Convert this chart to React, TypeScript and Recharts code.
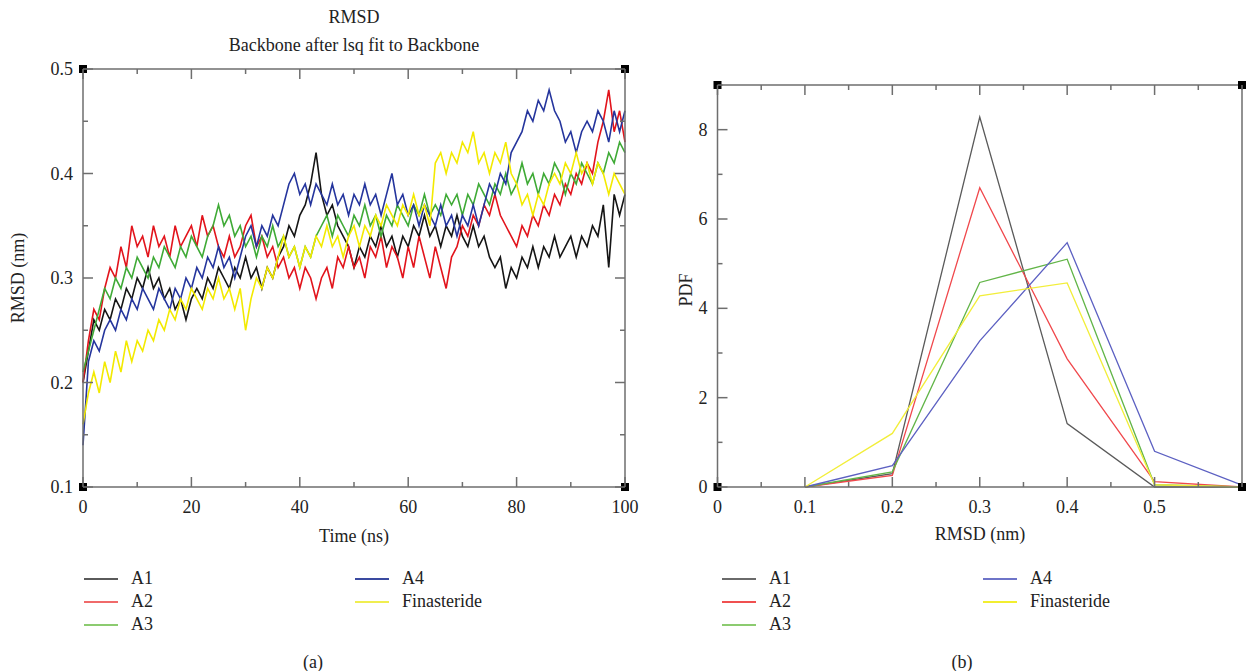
import React from "react"
import { LineChart, Line, XAxis, YAxis, ReferenceDot } from "recharts"

// ── RMSD time series (nm), one sample per ns ──
const timeNs = Array.from({ length: 101 }, (_, i) => i)

const rmsdA1 = [
  0.2, 0.23, 0.26, 0.25, 0.27, 0.26, 0.28, 0.27, 0.29, 0.28, 0.3, 0.29, 0.31, 0.29, 0.3, 0.28, 0.29, 0.27, 0.28, 0.26, 0.28,
  0.29, 0.28, 0.3, 0.29, 0.31, 0.3, 0.29, 0.31, 0.3, 0.32, 0.3, 0.31, 0.29, 0.31, 0.3, 0.32, 0.33, 0.35, 0.34, 0.36,
  0.37, 0.39, 0.42, 0.38, 0.36, 0.37, 0.35, 0.34, 0.33, 0.31, 0.33, 0.32, 0.34, 0.33, 0.35, 0.33, 0.34, 0.32, 0.34, 0.33,
  0.35, 0.34, 0.36, 0.34, 0.35, 0.33, 0.35, 0.34, 0.36, 0.34, 0.33, 0.35, 0.33, 0.34, 0.32, 0.31, 0.32, 0.29, 0.31, 0.3,
  0.32, 0.31, 0.33, 0.31, 0.33, 0.32, 0.34, 0.32, 0.33, 0.34, 0.32, 0.34, 0.33, 0.35, 0.34, 0.37, 0.31, 0.38, 0.36, 0.38,
]
const rmsdA2 = [
  0.2, 0.24, 0.27, 0.26, 0.29, 0.31, 0.3, 0.33, 0.31, 0.35, 0.33, 0.34, 0.32, 0.35, 0.33, 0.34, 0.32, 0.35, 0.33, 0.34, 0.35,
  0.33, 0.36, 0.34, 0.35, 0.33, 0.32, 0.34, 0.32, 0.33, 0.35, 0.36, 0.33, 0.34, 0.32, 0.33, 0.31, 0.32, 0.3, 0.31, 0.29,
  0.31, 0.3, 0.28, 0.3, 0.31, 0.29, 0.32, 0.31, 0.33, 0.31, 0.32, 0.3, 0.33, 0.32, 0.34, 0.31, 0.33, 0.32, 0.3, 0.33,
  0.31, 0.34, 0.32, 0.3, 0.33, 0.31, 0.29, 0.32, 0.33, 0.35, 0.34, 0.36, 0.35, 0.37, 0.36, 0.38, 0.36, 0.35, 0.34, 0.33,
  0.35, 0.34, 0.36, 0.35, 0.37, 0.36, 0.38, 0.37, 0.39, 0.38, 0.4, 0.39, 0.41, 0.4, 0.43, 0.45, 0.48, 0.44, 0.46, 0.43,
]
const rmsdA3 = [
  0.21, 0.23, 0.25, 0.27, 0.29, 0.28, 0.3, 0.29, 0.31, 0.3, 0.32, 0.31, 0.3, 0.32, 0.31, 0.33, 0.32, 0.31, 0.33, 0.32, 0.34,
  0.33, 0.32, 0.34, 0.35, 0.37, 0.35, 0.36, 0.34, 0.35, 0.33, 0.34, 0.32, 0.34, 0.33, 0.35, 0.33, 0.34, 0.32, 0.33, 0.31,
  0.33, 0.32, 0.34, 0.35, 0.36, 0.34, 0.36, 0.35, 0.34, 0.36, 0.35, 0.37, 0.35, 0.36, 0.34, 0.36, 0.35, 0.37, 0.36, 0.35,
  0.37, 0.36, 0.38, 0.36, 0.37, 0.36, 0.38, 0.37, 0.38, 0.36, 0.38, 0.37, 0.39, 0.38, 0.37, 0.39, 0.38, 0.4, 0.38, 0.39,
  0.41, 0.39, 0.4, 0.38, 0.4, 0.39, 0.41, 0.4, 0.38, 0.4, 0.39, 0.41, 0.4, 0.39, 0.41, 0.4, 0.42, 0.41, 0.43, 0.42,
]
const rmsdA4 = [
  0.14, 0.22, 0.24, 0.23, 0.25, 0.26, 0.25, 0.27, 0.26, 0.28, 0.27, 0.29, 0.28, 0.27, 0.29, 0.28, 0.27, 0.29, 0.28, 0.3, 0.29,
  0.31, 0.3, 0.32, 0.31, 0.33, 0.31, 0.32, 0.3, 0.32, 0.34, 0.35, 0.33, 0.35, 0.34, 0.36, 0.35, 0.37, 0.39, 0.4, 0.38,
  0.39, 0.37, 0.39, 0.38, 0.37, 0.39, 0.37, 0.38, 0.36, 0.38, 0.37, 0.39, 0.37, 0.38, 0.36, 0.38, 0.4, 0.37, 0.38, 0.36,
  0.37, 0.35, 0.37, 0.36, 0.35, 0.37, 0.35, 0.36, 0.34, 0.36, 0.35, 0.37, 0.35, 0.37, 0.39, 0.38, 0.4, 0.39, 0.42, 0.43,
  0.44, 0.46, 0.45, 0.47, 0.46, 0.48, 0.46, 0.45, 0.43, 0.44, 0.42, 0.44, 0.45, 0.44, 0.46, 0.45, 0.43, 0.46, 0.44, 0.46,
]
const rmsdFin = [
  0.16, 0.19, 0.21, 0.19, 0.22, 0.2, 0.23, 0.21, 0.24, 0.22, 0.24, 0.23, 0.25, 0.24, 0.26, 0.25, 0.27, 0.26, 0.28, 0.27, 0.29,
  0.28, 0.27, 0.29, 0.28, 0.3, 0.28, 0.29, 0.27, 0.29, 0.25, 0.28, 0.3, 0.29, 0.31, 0.3, 0.32, 0.34, 0.32, 0.33, 0.31,
  0.33, 0.32, 0.34, 0.33, 0.35, 0.33, 0.34, 0.32, 0.34, 0.35, 0.33, 0.35, 0.34, 0.36, 0.35, 0.37, 0.36, 0.35, 0.37, 0.36,
  0.38, 0.36, 0.37, 0.35, 0.41, 0.42, 0.4, 0.42, 0.41, 0.43, 0.42, 0.44, 0.41, 0.42, 0.4, 0.42, 0.41, 0.43, 0.4, 0.39,
  0.37, 0.38, 0.36, 0.38, 0.37, 0.39, 0.4, 0.39, 0.41, 0.4, 0.42, 0.4, 0.41, 0.39, 0.41, 0.4, 0.38, 0.4, 0.39, 0.38,
]

// ── RMSD distribution (PDF) ──
const rmsdBins = [0.1, 0.2, 0.3, 0.4, 0.5, 0.6]
const pdfA1 = [0, 0.3, 8.28, 1.42, 0, 0]
const pdfA2 = [0, 0.26, 6.7, 2.87, 0.12, 0]
const pdfA3 = [0, 0.34, 4.58, 5.1, 0.05, 0]
const pdfA4 = [0, 0.48, 3.27, 5.47, 0.8, 0.04]
const pdfFin = [0, 1.2, 4.28, 4.57, 0.05, 0]

// ── axis ticks ──
const timeTicks = [0, 10, 20, 30, 40, 50, 60, 70, 80, 90, 100]
const timeMajors = [0, 20, 40, 60, 80, 100]
const rmsdTicks = [0.1, 0.15, 0.2, 0.25, 0.3, 0.35, 0.4, 0.45, 0.5]
const rmsdMajors = [0.1, 0.2, 0.3, 0.4, 0.5]
const binTicks = [0, 0.05, 0.1, 0.15, 0.2, 0.25, 0.3, 0.35, 0.4, 0.45, 0.5, 0.55, 0.6]
const binMajors = [0, 0.1, 0.2, 0.3, 0.4, 0.5]
const pdfTicks = [0, 1, 2, 3, 4, 5, 6, 7, 8, 9]
const pdfMajors = [0, 2, 4, 6, 8]

const names = ["A1", "A2", "A3", "A4", "Finasteride"]
const darkColors = ["#151515", "#e2141c", "#3faa36", "#25359d", "#f3ea00"]
const lightColors = ["#5a5a5a", "#f0484c", "#62b548", "#5c60c2", "#f2ee3a"]
const legendColorsA = ["#5a5a5a", "#f06a6a", "#8ccb70", "#3a4aa0", "#f0ee50"]
const legendColorsB = ["#6a6a6a", "#f05050", "#8ccb70", "#6e74c8", "#f2ee30"]

const timeData = timeNs.map((t, i) => ({
  t,
  A1: rmsdA1[i],
  A2: rmsdA2[i],
  A3: rmsdA3[i],
  A4: rmsdA4[i],
  Finasteride: rmsdFin[i],
}))

const pdfData = rmsdBins.map((x, i) => ({
  x,
  A1: pdfA1[i],
  A2: pdfA2[i],
  A3: pdfA3[i],
  A4: pdfA4[i],
  Finasteride: pdfFin[i],
}))

const FONT = '"Liberation Serif", "DejaVu Serif", serif'
const AXIS = "#6e6e6e"

type Side = "bottom" | "top" | "left" | "right"

function AxisTick(props: any) {
  const { x, y, payload, side, majors, labels } = props
  const v = Number(payload.value)
  const major = majors.some((m: number) => Math.abs(m - v) < 1e-9)
  const len = major ? 10 : 5
  const label = labels && major ? labels(v) : null
  let line: React.ReactNode = null
  let text: React.ReactNode = null
  if (side === "bottom") {
    line = <line x1={x} x2={x} y1={y} y2={y - len} stroke={AXIS} strokeWidth={1.5} />
    if (label !== null)
      text = (
        <text x={x} y={y + 26} textAnchor="middle" fontSize={18} fontFamily={FONT} fill="#222">
          {label}
        </text>
      )
  } else if (side === "top") {
    line = <line x1={x} x2={x} y1={y} y2={y + len} stroke={AXIS} strokeWidth={1.5} />
  } else if (side === "left") {
    line = <line x1={x} x2={x + len} y1={y} y2={y} stroke={AXIS} strokeWidth={1.5} />
    if (label !== null)
      text = (
        <text x={x - 10} y={y + 6} textAnchor="end" fontSize={18} fontFamily={FONT} fill="#222">
          {label}
        </text>
      )
  } else {
    line = <line x1={x} x2={x - len} y1={y} y2={y} stroke={AXIS} strokeWidth={1.5} />
  }
  return (
    <g>
      {line}
      {text}
    </g>
  )
}

const tickFor = (side: Side, majors: number[], labels?: (v: number) => string) => (p: any) =>
  <AxisTick {...p} side={side} majors={majors} labels={labels} />

const CornerSquare = (p: any) => (
  <rect x={p.cx - 4} y={p.cy - 4} width={8} height={8} fill="#000" />
)

function RmsdPanel() {
  return (
    <LineChart
      width={640}
      height={520}
      data={timeData}
      margin={{ top: 68, right: 14, bottom: 32, left: 82 }}
    >
      <XAxis
        dataKey="t"
        type="number"
        domain={[0, 100]}
        ticks={timeTicks}
        interval={0}
        height={1}
        tickSize={0}
        tickMargin={0}
        stroke={AXIS}
        strokeWidth={1.5}
        tick={tickFor("bottom", timeMajors, (v) => String(v))}
      />
      <XAxis
        xAxisId="top"
        orientation="top"
        dataKey="t"
        type="number"
        domain={[0, 100]}
        ticks={timeTicks}
        interval={0}
        height={1}
        tickSize={0}
        tickMargin={0}
        stroke={AXIS}
        strokeWidth={1.5}
        tick={tickFor("top", timeMajors)}
      />
      <YAxis
        type="number"
        domain={[0.1, 0.5]}
        ticks={rmsdTicks}
        interval={0}
        width={1}
        tickSize={0}
        tickMargin={0}
        allowDataOverflow
        stroke={AXIS}
        strokeWidth={1.5}
        tick={tickFor("left", rmsdMajors, (v) => v.toFixed(1))}
      />
      <YAxis
        yAxisId="right"
        orientation="right"
        type="number"
        domain={[0.1, 0.5]}
        ticks={rmsdTicks}
        interval={0}
        width={1}
        tickSize={0}
        tickMargin={0}
        allowDataOverflow
        stroke={AXIS}
        strokeWidth={1.5}
        tick={tickFor("right", rmsdMajors)}
      />
      {names.map((n, i) => (
        <Line
          key={n}
          dataKey={n}
          stroke={darkColors[i]}
          strokeWidth={1.6}
          dot={false}
          isAnimationActive={false}
        />
      ))}
      <ReferenceDot x={0} y={0.5} ifOverflow="visible" shape={CornerSquare} />
      <ReferenceDot x={100} y={0.5} ifOverflow="visible" shape={CornerSquare} />
      <ReferenceDot x={0} y={0.1} ifOverflow="visible" shape={CornerSquare} />
      <ReferenceDot x={100} y={0.1} ifOverflow="visible" shape={CornerSquare} />
    </LineChart>
  )
}

function PdfPanel() {
  return (
    <LineChart
      width={587}
      height={520}
      data={pdfData}
      margin={{ top: 84, right: 4, bottom: 32, left: 56.5 }}
    >
      <XAxis
        dataKey="x"
        type="number"
        domain={[0, 0.6]}
        ticks={binTicks}
        interval={0}
        height={1}
        tickSize={0}
        tickMargin={0}
        stroke={AXIS}
        strokeWidth={1.5}
        tick={tickFor("bottom", binMajors, (v) => (v === 0 ? "0" : v.toFixed(1)))}
      />
      <XAxis
        xAxisId="top"
        orientation="top"
        dataKey="x"
        type="number"
        domain={[0, 0.6]}
        ticks={binTicks}
        interval={0}
        height={1}
        tickSize={0}
        tickMargin={0}
        stroke={AXIS}
        strokeWidth={1.5}
        tick={tickFor("top", binMajors)}
      />
      <YAxis
        type="number"
        domain={[0, 9]}
        ticks={pdfTicks}
        interval={0}
        width={1}
        tickSize={0}
        tickMargin={0}
        stroke={AXIS}
        strokeWidth={1.5}
        tick={tickFor("left", pdfMajors, (v) => String(v))}
      />
      <YAxis
        yAxisId="right"
        orientation="right"
        type="number"
        domain={[0, 9]}
        ticks={pdfTicks}
        interval={0}
        width={1}
        tickSize={0}
        tickMargin={0}
        stroke={AXIS}
        strokeWidth={1.5}
        tick={tickFor("right", pdfMajors)}
      />
      {names.map((n, i) => (
        <Line
          key={n}
          dataKey={n}
          stroke={lightColors[i]}
          strokeWidth={1.3}
          dot={false}
          isAnimationActive={false}
        />
      ))}
      <ReferenceDot x={0} y={9} ifOverflow="visible" shape={CornerSquare} />
      <ReferenceDot x={0.6} y={9} ifOverflow="visible" shape={CornerSquare} />
      <ReferenceDot x={0} y={0} ifOverflow="visible" shape={CornerSquare} />
      <ReferenceDot x={0.6} y={0} ifOverflow="visible" shape={CornerSquare} />
    </LineChart>
  )
}

const txt: React.CSSProperties = {
  position: "absolute",
  fontFamily: FONT,
  fontSize: 18,
  color: "#222",
  whiteSpace: "nowrap",
  lineHeight: "20px",
}

function LegendBlock({ left, colors }: { left: number; colors: string[] }) {
  // two columns: A1–A3, then A4 + Finasteride
  const cols = [
    [0, 1, 2],
    [3, 4],
  ]
  return (
    <>
      {cols.map((col, c) =>
        col.map((idx, r) => {
          const x = left + c * (c === 1 ? 271 : 0) + (c === 1 && left > 500 ? -10 : 0)
          const y = 568 + r * 23
          return (
            <div key={names[idx]} style={{ position: "absolute", left: x, top: y, height: 20 }}>
              <div
                style={{
                  position: "absolute",
                  left: 0,
                  top: 10,
                  width: 34,
                  height: 2,
                  background: colors[idx],
                }}
              />
              <div style={{ ...txt, left: 47, top: 0 }}>{names[idx]}</div>
            </div>
          )
        })
      )}
    </>
  )
}

export default function App() {
  return (
    <div
      style={{
        position: "absolute",
        left: 0,
        top: 0,
        width: 1247,
        height: 671,
        background: "#fff",
        overflow: "hidden",
      }}
    >
      <div style={{ position: "absolute", left: 0, top: 0 }}>
        <RmsdPanel />
      </div>
      <div style={{ position: "absolute", left: 660, top: 0 }}>
        <PdfPanel />
      </div>

      <div style={{ ...txt, left: 354, top: 7, transform: "translateX(-50%)" }}>RMSD</div>
      <div style={{ ...txt, left: 354, top: 35, transform: "translateX(-50%)" }}>
        Backbone after lsq fit to Backbone
      </div>
      <div style={{ ...txt, left: 354, top: 526, transform: "translateX(-50%)" }}>Time (ns)</div>
      <div
        style={{
          ...txt,
          left: 18,
          top: 278,
          transform: "translate(-50%, -50%) rotate(-90deg)",
        }}
      >
        RMSD (nm)
      </div>

      <div style={{ ...txt, left: 980, top: 524, transform: "translateX(-50%)" }}>RMSD (nm)</div>
      <div
        style={{
          ...txt,
          left: 686,
          top: 290,
          transform: "translate(-50%, -50%) rotate(-90deg)",
        }}
      >
        PDF
      </div>

      <LegendBlock left={84} colors={legendColorsA} />
      <LegendBlock left={722} colors={legendColorsB} />

      <div style={{ ...txt, left: 313, top: 652, transform: "translateX(-50%)" }}>(a)</div>
      <div style={{ ...txt, left: 962, top: 652, transform: "translateX(-50%)" }}>(b)</div>
    </div>
  )
}
